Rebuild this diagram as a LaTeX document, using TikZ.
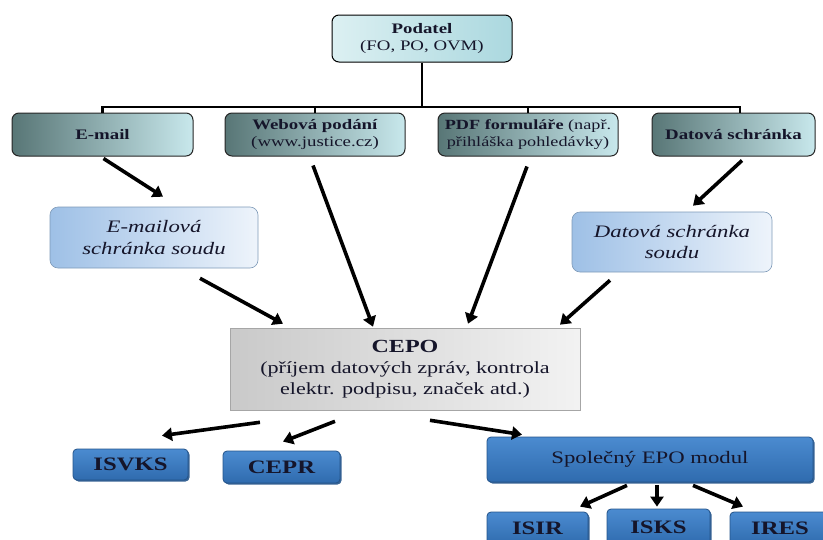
\documentclass[tikz,border=0pt]{standalone}
\usepackage{fontspec}
\setmainfont{Liberation Serif}[FakeStretch=1.3]
\usetikzlibrary{arrows.meta,shadows}
\definecolor{chL}{HTML}{587676}
\definecolor{chR}{HTML}{C8E8EC}
\definecolor{podL}{HTML}{DCF0F2}
\definecolor{podR}{HTML}{ABD8DF}
\definecolor{lbL}{HTML}{9EC0E6}
\definecolor{lbR}{HTML}{EEF4FB}
\definecolor{blT}{HTML}{4B8BD0}
\definecolor{blB}{HTML}{2F6BAE}
\definecolor{blD}{HTML}{24548A}
\definecolor{txt}{HTML}{15152A}
\newcommand{\fsz}[1]{\fontsize{#1}{1.24\dimexpr #1pt\relax}\selectfont}
\tikzset{
  pod/.style={draw=black, line width=1pt, rounded corners=7pt, left color=podL, right color=podR,
    minimum width=180pt, minimum height=47pt, align=center, text=txt, inner sep=1pt},
  chan/.style={draw=black!85, line width=1pt, rounded corners=7pt, left color=chL, right color=chR,
    minimum height=43pt, align=center, text=txt, inner sep=1pt},
  lbox/.style={draw=lbL!80!black, line width=0.6pt, rounded corners=8pt, left color=lbL, right color=lbR,
    minimum height=61pt, align=center, text=txt, font=\itshape\fsz{17.5}},
  cbox/.style={draw=gray!70, line width=0.6pt, left color=gray!42, right color=gray!10,
    minimum width=350pt, minimum height=82pt, align=center, text=txt},
  bbox/.style={draw=blD, line width=0.8pt, rounded corners=4pt, top color=blT, bottom color=blB,
    drop shadow={shadow xshift=1.5pt, shadow yshift=-1.5pt, fill=blD, opacity=0.9},
    align=center, text=txt},
  tree/.style={line width=2.4pt, draw=black},
  arr/.style={line width=3.6pt, draw=black, -{Triangle[length=10pt,width=13pt]}}
}
\begin{document}
\begin{tikzpicture}[x=1pt,y=-1pt]
\useasboundingbox (0,0) rectangle (823,539);
\clip (0,0) rectangle (823,539);
% top
\node[pod, font=\fsz{14.5}] (pod) at (422,38.5) {\textbf{Podatel}\\(FO, PO, OVM)};
% channels
\node[chan, minimum width=181pt, font=\bfseries\fsz{14.5}] (email) at (102.5,134.5) {E-mail};
\node[chan, minimum width=180pt, font=\fsz{14.5}] (web) at (315,134.5) {\textbf{Webová podání}\\(www.justice.cz)};
\node[chan, minimum width=180pt, font=\fsz{14}] (pdf) at (528,134.5) {\textbf{PDF formuláře} (např.\\přihláška pohledávky)};
\node[chan, minimum width=163pt, font=\bfseries\fsz{14.5}] (ds) at (733.5,134.5) {Datová schránka};
% tree
\coordinate (bar) at (422,107);
\draw[tree] (pod.south) -- (bar);
\draw[tree] (email.north) |- (bar) -| ([xshift=6.5pt]ds.north);
\draw[tree] (web.north) -- (web.north |- bar);
\draw[tree] (pdf.north) -- (pdf.north |- bar);
% court mailboxes
\node[lbox, minimum width=208pt] (ems) at (154,237.5) {E-mailová\\schránka soudu};
\node[lbox, minimum width=200pt, minimum height=60pt] (dss) at (672,242) {Datová schránka\\soudu};
% CEPO
\node[cbox, font=\fsz{17}] (cepo) at (405,369) {{\bfseries\fsz{18.5}CEPO}\\(příjem datových zpráv, kontrola\\elektr. podpisu, značek atd.)};
% bottom
\node[bbox, minimum width=115pt, minimum height=31pt, font=\bfseries\fsz{19}] (isvks) at (130.5,464.5) {ISVKS};
\node[bbox, minimum width=117pt, minimum height=32pt, font=\bfseries\fsz{19}] (cepr) at (281.5,467) {CEPR};
\node[bbox, minimum width=326pt, minimum height=45pt, font=\fsz{17.5}] (spol) at (650,459.5) {Společný EPO modul};
\node[bbox, minimum width=101pt, minimum height=33pt, font=\bfseries\fsz{19}] (isir) at (537.5,528.5) {ISIR};
\node[bbox, minimum width=103pt, minimum height=36pt, font=\bfseries\fsz{19}] (isks) at (658.5,527) {ISKS};
\node[bbox, minimum width=100pt, minimum height=33pt, font=\bfseries\fsz{19}] (ires) at (780,528.5) {IRES};
% arrows
\draw[arr] ([xshift=1pt,yshift=-2pt]email.south) -- ([xshift=9pt,yshift=10pt]ems.north);
\draw[arr] ([xshift=-2pt,yshift=-9pt]web.south) -- ([xshift=-32pt,yshift=1pt]cepo.north);
\draw[arr] ([xshift=-1pt,yshift=-10pt]pdf.south) -- ([xshift=63pt,yshift=4pt]cepo.north);
\draw[arr] ([xshift=8.5pt,yshift=-4pt]ds.south) -- ([xshift=21pt,yshift=6pt]dss.north);
\draw[arr] ([xshift=46pt,yshift=-10pt]ems.south) -- ([xshift=-122pt,yshift=4pt]cepo.north);
\draw[arr] ([xshift=-62pt,yshift=-8pt]dss.south) -- ([xshift=155pt,yshift=3pt]cepo.north);
\draw[arr] ([xshift=-145pt,yshift=-12pt]cepo.south) -- ([xshift=31.5pt,yshift=13pt]isvks.north);
\draw[arr] ([xshift=-70pt,yshift=-11pt]cepo.south) -- ([xshift=1.5pt,yshift=9pt]cepr.north);
\draw[arr] ([xshift=25pt,yshift=-10pt]cepo.south) -- ([xshift=-128pt,yshift=2pt]spol.north);
\draw[arr] ([xshift=-23pt,yshift=-3pt]spol.south) -- ([xshift=42.5pt,yshift=5pt]isir.north);
\draw[arr] ([xshift=7pt,yshift=-3pt]spol.south) -- ([xshift=-1.5pt,yshift=2pt]isks.north);
\draw[arr] ([xshift=43pt,yshift=-3pt]spol.south) -- ([xshift=-37pt,yshift=5pt]ires.north);
\end{tikzpicture}
\end{document}
